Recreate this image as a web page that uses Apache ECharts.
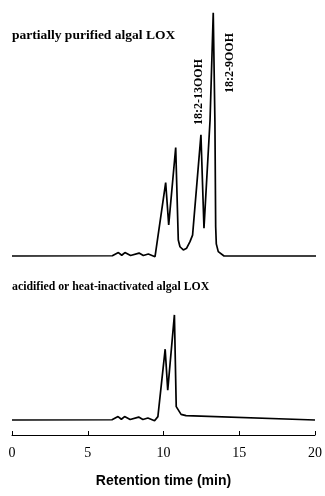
<!DOCTYPE html>
<html>
<head>
<meta charset="utf-8">
<script src="https://cdn.jsdelivr.net/npm/echarts@6/dist/echarts.min.js"></script>
<style>
  html, body { margin: 0; padding: 0; background: #fff; }
  #chart { width: 325px; height: 496px; }
</style>
</head>
<body>
<div id="chart"></div>
<script>
// HPLC traces (retention time in min, detector response in relative units)
const timesActive = [0, 6.6, 7.0, 7.22, 7.43, 7.8, 8.36, 8.64, 8.97, 9.41, 9.54,
  10.11, 10.31, 10.77, 10.94, 11.05, 11.27, 11.49, 11.71, 11.88, 12.43, 12.63,
  13.03, 13.24, 13.35, 13.40, 13.44, 13.57, 13.95, 20];
const valuesActive = [0, 0.1, 1.4, 0.3, 1.4, 0.2, 1.2, 0.2, 0.8, -0.3, 0.2,
  30.2, 12.8, 44.6, 6.6, 3.8, 2.5, 3.2, 5.9, 8.6, 49.8, 11.4,
  55.9, 100, 55, 12, 5, 1.8, 0, 0];

const timesInactive = [0, 6.6, 7.0, 7.22, 7.43, 7.8, 8.36, 8.64, 8.97, 9.41, 9.63,
  10.11, 10.28, 10.72, 10.84, 11.16, 11.49, 20];
const valuesInactive = [0, 0.1, 1.4, 0.3, 1.4, 0.2, 1.2, 0.2, 0.8, -0.3, 1.4,
  29.1, 12.3, 43.2, 5.5, 2.3, 1.8, 0];

const timeTicks = [0, 5, 10, 15, 20];

const panelTitles = ['partially purified algal LOX', 'acidified or heat-inactivated algal LOX'];
const peakLabels = ['18:2-13OOH', '18:2-9OOH'];
const axisTitle = 'Retention time (min)';

const pairs = (xs, ys) => xs.map((x, i) => [x, ys[i]]);

// vertical scale shared by both panels (px per response unit)
const K = 2.433;
const topBase = 256;     // baseline pixel of upper trace
const axisY = 435;       // pixel of the time axis
const lowBase = 420;     // baseline pixel of lower trace
const lowMax = 50;

const chart = echarts.init(document.getElementById('chart'), null, { renderer: 'canvas' });

const serif = '"Liberation Serif", "Times New Roman", serif';
const sans = '"Liberation Sans", Arial, sans-serif';

const lineStyle = { color: '#000', width: 1.7 };

chart.setOption({
  animation: false,
  backgroundColor: '#fff',
  grid: [
    { left: 12, right: 9, top: topBase - 105 * K, height: 107 * K },
    { left: 12, right: 9, top: lowBase - lowMax * K, height: axisY - (lowBase - lowMax * K) }
  ],
  xAxis: [
    { gridIndex: 0, type: 'value', min: 0, max: 20, show: false },
    {
      gridIndex: 1, type: 'value', min: timeTicks[0], max: timeTicks[timeTicks.length - 1],
      interval: timeTicks[1] - timeTicks[0],
      axisLine: { show: true, onZero: false, lineStyle: { color: '#000', width: 1 } },
      axisTick: { show: true, inside: true, length: 4, lineStyle: { color: '#000', width: 1 } },
      splitLine: { show: false },
      axisLabel: { color: '#000', fontFamily: serif, fontSize: 14, margin: 11 },
      name: axisTitle,
      nameLocation: 'middle',
      nameGap: 39,
      nameTextStyle: { color: '#000', fontFamily: sans, fontSize: 14, fontWeight: 'bold' }
    }
  ],
  yAxis: [
    { gridIndex: 0, type: 'value', min: -2, max: 105, show: false },
    { gridIndex: 1, type: 'value', min: -(axisY - lowBase) / K, max: lowMax, show: false }
  ],
  series: [
    {
      type: 'line', xAxisIndex: 0, yAxisIndex: 0,
      data: pairs(timesActive, valuesActive),
      showSymbol: false, smooth: false, clip: false,
      lineStyle: lineStyle
    },
    {
      type: 'line', xAxisIndex: 1, yAxisIndex: 1,
      data: pairs(timesInactive, valuesInactive),
      showSymbol: false, smooth: false, clip: false,
      lineStyle: lineStyle
    }
  ],
  graphic: [
    {
      type: 'text', left: 12, top: 29,
      style: { text: panelTitles[0], fill: '#000', font: 'bold 13.5px ' + serif }
    },
    {
      type: 'text', left: 12, top: 281,
      style: { text: panelTitles[1], fill: '#000', font: 'bold 11.8px ' + serif }
    },
    {
      type: 'text', x: 199, y: 92, rotation: Math.PI / 2,
      style: { text: peakLabels[0], fill: '#000', font: 'bold 12px ' + serif,
        align: 'center', verticalAlign: 'middle' }
    },
    {
      type: 'text', x: 230, y: 63, rotation: Math.PI / 2,
      style: { text: peakLabels[1], fill: '#000', font: 'bold 12px ' + serif,
        align: 'center', verticalAlign: 'middle' }
    }
  ]
});
</script>
</body>
</html>
